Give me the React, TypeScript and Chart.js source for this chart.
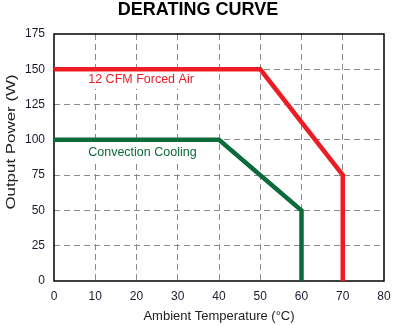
import React, { useEffect, useRef } from "react";
import { Chart, registerables } from "chart.js";

Chart.register(...registerables);

const chartTitle = "DERATING CURVE";
const xAxisTitle = "Ambient Temperature (°C)";
const yAxisTitle = "Output Power (W)";

const forcedLabel = "12 CFM Forced Air";
const forcedTemps = [0, 50, 70, 70];
const forcedPower = [150, 150, 75, 0];

const convLabel = "Convection Cooling";
const convTemps = [0, 40, 60, 60];
const convPower = [100, 100, 50, 0];

const xMin = 0, xMax = 80, xStep = 10;
const yMin = 0, yMax = 175, yStep = 25;

// where each curve's text label sits, in data units
const forcedTextAt = { x: 8.3, y: 142.5 };
const convTextAt = { x: 8.3, y: 91 };

const RED = "#ed1c24";
const GREEN = "#0b6b3a";
const FONT = "Arial, 'Liberation Sans', sans-serif";

const toPoints = (xs: number[], ys: number[]) => xs.map((x, i) => ({ x, y: ys[i] }));

const overlay = {
  id: "overlay",
  beforeDatasetsDraw(chart: any) {
    const { ctx, chartArea, scales } = chart;
    const xs = scales.x, ys = scales.y;
    ctx.save();
    ctx.font = `12.5px ${FONT}`;
    // white boxes behind the curve labels
    ctx.fillStyle = "#fff";
    const box = (text: string, at: { x: number; y: number }) => {
      const w = ctx.measureText(text).width;
      ctx.fillRect(xs.getPixelForValue(at.x) - 2, ys.getPixelForValue(at.y) - 9, w + 4, 18);
    };
    box(forcedLabel, forcedTextAt);
    box(convLabel, convTextAt);
    ctx.strokeStyle = "#000";
    ctx.lineWidth = 1.5;
    ctx.strokeRect(chartArea.left, chartArea.top, chartArea.right - chartArea.left, chartArea.bottom - chartArea.top);
    ctx.restore();
  },
  afterDatasetsDraw(chart: any) {
    const { ctx, scales } = chart;
    const xs = scales.x, ys = scales.y;
    ctx.save();
    // chart title
    ctx.font = `bold 18px ${FONT}`;
    ctx.fillStyle = "#000";
    ctx.textAlign = "center";
    ctx.textBaseline = "middle";
    ctx.fillText(chartTitle, 198, 10);
    ctx.font = `12.5px ${FONT}`;
    ctx.textAlign = "left";
    ctx.fillStyle = RED;
    ctx.fillText(forcedLabel, xs.getPixelForValue(forcedTextAt.x), ys.getPixelForValue(forcedTextAt.y));
    ctx.fillStyle = GREEN;
    ctx.fillText(convLabel, xs.getPixelForValue(convTextAt.x), ys.getPixelForValue(convTextAt.y));
    // y axis title
    ctx.translate(11, 142);
    ctx.rotate(-Math.PI / 2);
    ctx.scale(1.3, 1);
    ctx.font = `13px ${FONT}`;
    ctx.fillStyle = "#222";
    ctx.textAlign = "center";
    ctx.fillText(yAxisTitle, 0, 0);
    ctx.restore();
  },
};

export default function App() {
  const ref = useRef<HTMLCanvasElement | null>(null);
  useEffect(() => {
    if (!ref.current) return;
    const gridColor = (c: any) => {
      const v = c.tick ? c.tick.value : null;
      return v === xMin || v === xMax || v === yMin || v === yMax ? "rgba(0,0,0,0)" : "#8a8a8a";
    };
    const chart = new Chart(ref.current, {
      type: "line",
      data: {
        datasets: [
          {
            label: forcedLabel,
            data: toPoints(forcedTemps, forcedPower),
            borderColor: RED,
            backgroundColor: RED,
            borderWidth: 4.5,
            pointRadius: 0,
            tension: 0,
            borderJoinStyle: "miter",
          },
          {
            label: convLabel,
            data: toPoints(convTemps, convPower),
            borderColor: GREEN,
            backgroundColor: GREEN,
            borderWidth: 4.5,
            pointRadius: 0,
            tension: 0,
            borderJoinStyle: "miter",
          },
        ],
      },
      options: {
        animation: false,
        responsive: true,
        maintainAspectRatio: false,
        layout: { padding: { left: 0, right: 16, top: 34, bottom: 0 } },
        plugins: {
          legend: { display: false },
          tooltip: { enabled: false },
          title: { display: false },
        },
        scales: {
          x: {
            type: "linear",
            min: xMin,
            max: xMax,
            border: { display: false, dash: [6, 4] },
            grid: { color: gridColor, lineWidth: 1, drawTicks: false },
            ticks: { stepSize: xStep, padding: 8, color: "#1a1a2e", font: { family: FONT, size: 12 }, maxRotation: 0 },
            title: { display: true, text: xAxisTitle, color: "#222", font: { family: FONT, size: 13 }, padding: { top: 0, bottom: 1 } },
            afterFit(scale: any) { scale.height = 44; },
          } as any,
          y: {
            type: "linear",
            min: yMin,
            max: yMax,
            border: { display: false, dash: [6, 4] },
            grid: { color: gridColor, lineWidth: 1, drawTicks: false },
            ticks: { stepSize: yStep, padding: 9, color: "#1a1a2e", font: { family: FONT, size: 12 } },
            afterFit(scale: any) { scale.width = 54; },
          } as any,
        },
      },
      plugins: [overlay],
    });
    return () => chart.destroy();
  }, []);
  return (
    <div style={{ position: "fixed", left: 0, top: 0, width: 400, height: 325, background: "#fff" }}>
      <canvas ref={ref} />
    </div>
  );
}
